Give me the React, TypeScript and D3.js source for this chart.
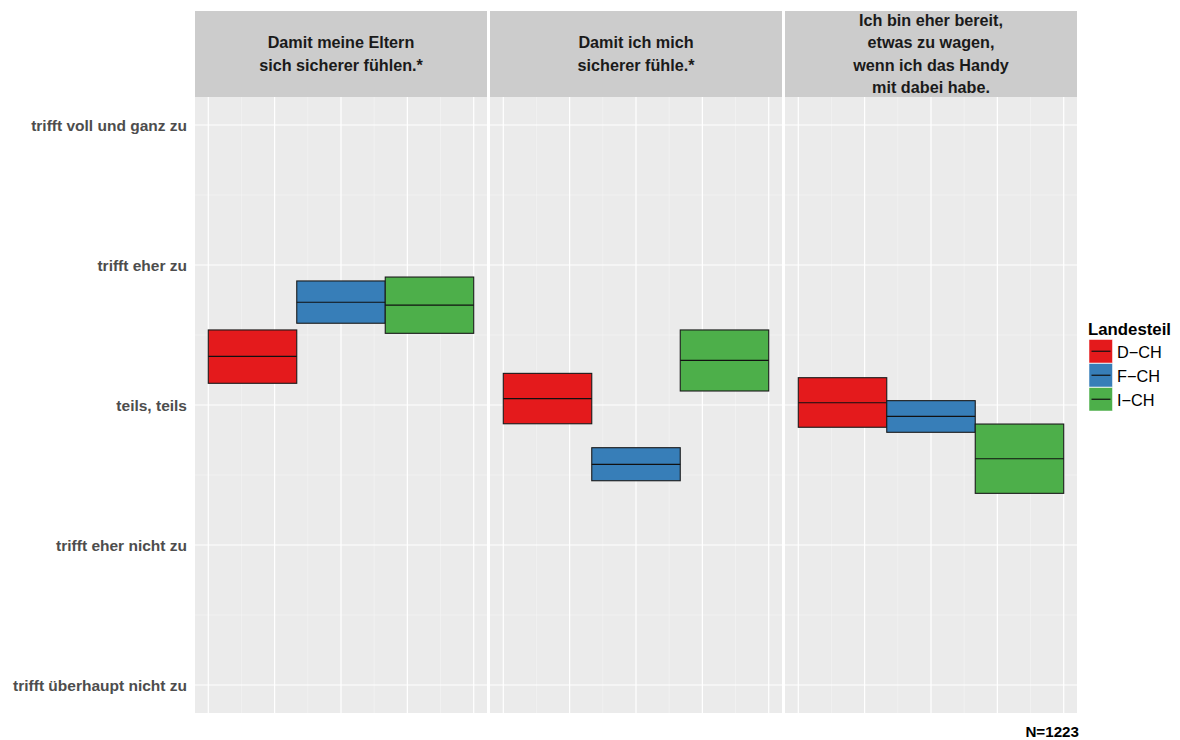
import React from "react";
import * as d3 from "d3";

const panels = [
  "Damit meine Eltern\nsich sicherer fühlen.*",
  "Damit ich mich\nsicherer fühle.*",
  "Ich bin eher bereit,\netwas zu wagen,\nwenn ich das Handy\nmit dabei habe.",
];
const regions = ["D\u2212CH", "F\u2212CH", "I\u2212CH"];
const colors = ["#E41A1C", "#377EB8", "#4DAF4A"];
const yLabels = [
  "trifft überhaupt nicht zu",
  "trifft eher nicht zu",
  "teils, teils",
  "trifft eher zu",
  "trifft voll und ganz zu",
];
// per panel, per region: [lower, mean, upper]
const panel1 = [
  [3.155, 3.348, 3.536],
  [3.584, 3.734, 3.886],
  [3.512, 3.714, 3.914],
];
const panel2 = [
  [2.866, 3.045, 3.226],
  [2.459, 2.576, 2.695],
  [3.1, 3.319, 3.536],
];
const panel3 = [
  [2.841, 3.016, 3.195],
  [2.805, 2.919, 3.031],
  [2.369, 2.616, 2.864],
];
const panelData = [panel1, panel2, panel3];
const xMajor = [0.5, 1.25, 2, 2.75, 3.5];
const xMinor = [0.875, 1.625, 2.375, 3.125];
const yMajor = [1, 2, 3, 4, 5];
const yMinor = [1.5, 2.5, 3.5, 4.5];
const nLabel = "N=1223";

export default function App() {
  const W = 1180, H = 740;
  const panelTop = 97, panelBottom = 713;
  const stripTop = 11;
  const panelLefts = [195, 490, 785];
  const pw = 292;
  const y = d3.scaleLinear().domain([0.8, 5.2]).range([panelBottom, panelTop]);
  const font = "'Liberation Sans', Arial, Helvetica, sans-serif";

  return (
    <svg width={W} height={H} style={{ position: "absolute", left: 0, top: 0 }} fontFamily={font}>
      <rect width={W} height={H} fill="#ffffff" />
      {panelLefts.map((left, pi) => {
        const x = d3.scaleLinear().domain([0.35, 3.65]).range([left, left + pw]);
        const lines = panels[pi].split("\n");
        const stripMid = (stripTop + panelTop) / 2;
        const lh = 22.5;
        return (
          <g key={pi}>
            <rect x={left} y={stripTop} width={pw} height={panelTop - stripTop} fill="#CCCCCC" />
            {lines.map((l, li) => (
              <text
                key={li}
                x={left + pw / 2}
                y={stripMid + (li - (lines.length - 1) / 2) * lh + 5.5}
                textAnchor="middle"
                fontWeight="bold"
                fontSize={16.2}
                fill="#1a1a1a"
              >
                {l}
              </text>
            ))}
            <rect x={left} y={panelTop} width={pw} height={panelBottom - panelTop} fill="#EBEBEB" />
            {yMinor.map((v) => (
              <line key={"ym" + v} x1={left} x2={left + pw} y1={y(v)} y2={y(v)} stroke="#F5F5F5" strokeWidth={0.6} />
            ))}
            {xMinor.map((v) => (
              <line key={"xm" + v} x1={x(v)} x2={x(v)} y1={panelTop} y2={panelBottom} stroke="#F5F5F5" strokeWidth={0.6} />
            ))}
            {yMajor.map((v) => (
              <line key={"yM" + v} x1={left} x2={left + pw} y1={y(v)} y2={y(v)} stroke="#ffffff" strokeWidth={1.2} />
            ))}
            {xMajor.map((v) => (
              <line key={"xM" + v} x1={x(v)} x2={x(v)} y1={panelTop} y2={panelBottom} stroke="#ffffff" strokeWidth={1.2} />
            ))}
            {panelData[pi].map((d, ri) => {
              const x0 = x(ri + 0.5), x1 = x(ri + 1.5);
              return (
                <g key={ri}>
                  <rect
                    x={x0}
                    y={y(d[2])}
                    width={x1 - x0}
                    height={y(d[0]) - y(d[2])}
                    fill={colors[ri]}
                    stroke="#1a1a1a"
                    strokeWidth={1.1}
                  />
                  <line x1={x0} x2={x1} y1={y(d[1])} y2={y(d[1])} stroke="#111" strokeWidth={1.2} />
                </g>
              );
            })}
          </g>
        );
      })}
      {yMajor.map((v, i) => (
        <text key={v} x={187} y={y(v) + 5.5} textAnchor="end" fontWeight="bold" fontSize={15.5} fill="#4D4D4D">
          {yLabels[i]}
        </text>
      ))}
      <g>
        <text x={1088} y={335} fontWeight="bold" fontSize={16.8} fill="#000">
          Landesteil
        </text>
        {regions.map((r, i) => {
          const ky = 339.5 + i * 24;
          return (
            <g key={r}>
              <rect x={1089} y={ky} width={23.5} height={23.5} fill={colors[i]} stroke="#fff" strokeWidth={0.5} />
              <line x1={1091.5} x2={1110.5} y1={ky + 11.75} y2={ky + 11.75} stroke="#111" strokeWidth={1.2} />
              <text x={1117} y={ky + 18.5} fontSize={16.3} fill="#000">
                {r}
              </text>
            </g>
          );
        })}
      </g>
      <text x={1079} y={737} textAnchor="end" fontWeight="bold" fontSize={15.2} fill="#000">
        {nLabel}
      </text>
    </svg>
  );
}
